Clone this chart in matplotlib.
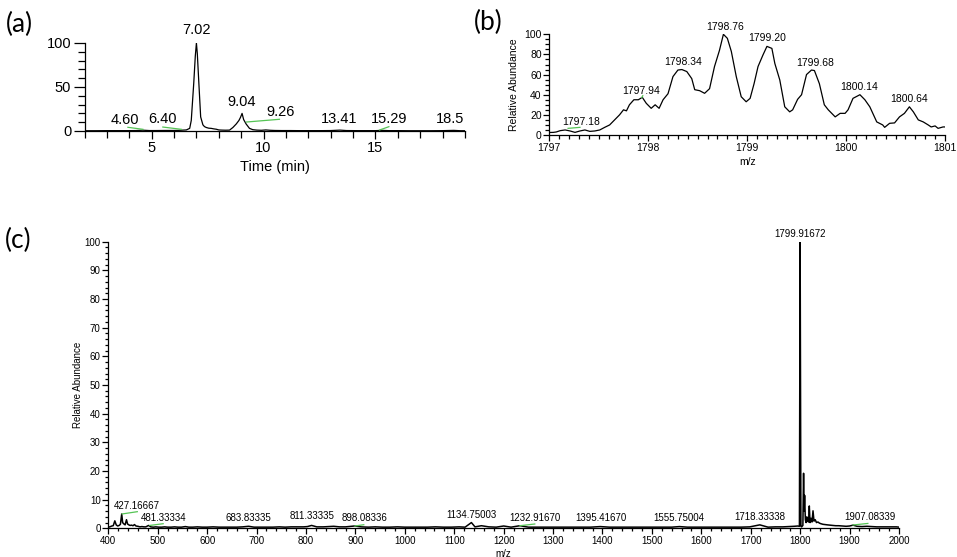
import matplotlib
matplotlib.use("Agg")
import matplotlib.pyplot as plt
from matplotlib.ticker import MultipleLocator

plt.rcParams['font.family'] = ['Liberation Sans', 'DejaVu Sans']

# ---------------- (a) chromatogram ----------------
time_min = [2.0, 2.5, 3.0, 3.5, 4.0, 4.3, 4.6, 4.9, 5.2, 5.6, 6.0, 6.2, 6.4, 6.55,
            6.70, 6.77, 6.88, 6.95, 7.00, 7.04, 7.11, 7.19, 7.29, 7.36, 7.44, 7.55,
            7.66, 7.78, 7.89, 8.0, 8.15, 8.3, 8.48, 8.63, 8.78, 8.9, 8.97, 9.04,
            9.11, 9.22, 9.37, 9.52, 9.7, 9.9, 10.1, 10.3, 10.5, 10.8, 11.2, 11.6,
            12.0, 12.5, 13.0, 13.41, 13.7, 14.2, 14.7, 15.0, 15.29, 15.6, 16.0,
            16.5, 17.0, 17.5, 18.0, 18.5, 18.8, 19.0]
tic_rel = [0.3, 0.3, 0.4, 0.4, 0.4, 0.5, 0.9, 0.5, 0.5, 0.6, 0.6, 0.7, 1.0, 1.2,
           3.0, 12.0, 54.0, 85.0, 100.0, 88.0, 54.0, 16.0, 7.0, 5.0, 4.0, 3.2,
           3.0, 2.4, 2.0, 1.2, 1.0, 0.9, 1.0, 4.0, 8.0, 12.0, 15.5, 20.0,
           13.0, 8.0, 3.0, 1.5, 1.0, 0.8, 1.2, 0.8, 0.6, 0.5, 0.5, 0.4,
           0.4, 0.4, 0.5, 1.0, 0.5, 0.4, 0.4, 0.4, 0.7, 0.4, 0.4,
           0.3, 0.3, 0.3, 0.4, 0.7, 0.3, 0.3]
tic_labels = ["4.60", "6.40", "7.02", "9.04", "9.26", "13.41", "15.29", "18.5"]

# ---------------- (b) zoomed isotope envelope ----------------
mz_b = [1797.00, 1797.04, 1797.07, 1797.11, 1797.16, 1797.21, 1797.26, 1797.31,
        1797.36, 1797.41, 1797.46, 1797.51, 1797.56, 1797.61, 1797.66, 1797.71,
        1797.75, 1797.78, 1797.81, 1797.855, 1797.90, 1797.94, 1797.98, 1798.03,
        1798.07, 1798.11, 1798.15, 1798.20, 1798.25, 1798.30, 1798.34, 1798.39,
        1798.44, 1798.47, 1798.52, 1798.57, 1798.62, 1798.67, 1798.72, 1798.76,
        1798.80, 1798.84, 1798.89, 1798.94, 1798.99, 1799.03, 1799.07, 1799.11,
        1799.16, 1799.20, 1799.25, 1799.28, 1799.33, 1799.38, 1799.43, 1799.46,
        1799.51, 1799.55, 1799.60, 1799.65, 1799.68, 1799.73, 1799.78, 1799.82,
        1799.89, 1799.94, 1799.99, 1800.02, 1800.07, 1800.14, 1800.19, 1800.24,
        1800.31, 1800.37, 1800.39, 1800.44, 1800.49, 1800.54, 1800.59, 1800.64,
        1800.68, 1800.73, 1800.78, 1800.83, 1800.86, 1800.90, 1800.93, 1800.98,
        1801.00]
ab_b = [2.5, 2.6, 3.0, 4.3, 5.0, 4.0, 2.6, 4.0,
        5.0, 3.6, 4.0, 5.0, 7.6, 10.0, 15.0, 20.0,
        25.0, 24.0, 30.0, 35.0, 35.0, 37.4, 31.5, 26.5,
        30.0, 26.5, 35.0, 41.0, 58.0, 64.5, 65.0, 63.0,
        56.0, 45.0, 44.0, 41.4, 46.0, 68.0, 84.0, 100.0,
        96.0, 83.0, 58.0, 38.0, 33.0, 36.4, 51.0, 68.0,
        79.5, 88.0, 86.0, 71.0, 54.6, 28.0, 23.0, 25.0,
        35.4, 40.0, 60.0, 64.5, 64.0, 51.0, 30.0, 25.0,
        18.0, 21.5, 21.5, 25.0, 36.4, 40.0, 35.0, 28.0,
        13.0, 10.0, 7.6, 11.6, 12.0, 18.0, 21.5, 28.0,
        23.0, 15.0, 13.0, 10.0, 8.0, 9.0, 6.6, 8.0,
        8.0]
ms_b_labels = ["1797.18", "1797.94", "1798.34", "1798.76", "1799.20",
               "1799.68", "1800.14", "1800.64"]

# ---------------- (c) full-scan spectrum ----------------
mz_c = [400, 403, 407, 410, 413.2, 416, 419, 422, 424.5, 427.16667, 429, 431, 434,
        436.8, 439, 441.5, 444, 447, 450, 453, 456, 460, 464, 468, 472, 476,
        481.33334, 486, 491, 496, 502, 508, 514, 520, 527, 534, 541, 548, 556,
        563, 571, 580, 590, 600, 612, 624, 636, 648, 660, 672, 683.83335, 695,
        707, 720, 733, 746, 758, 770, 782, 795, 803, 811.33335, 822, 835, 848,
        856, 868, 880, 898.08336, 912, 926, 940, 955, 970, 985, 1000, 1015,
        1030, 1046, 1062, 1078, 1094, 1110, 1122, 1134.75003, 1142, 1155, 1170,
        1185, 1200, 1215, 1232.91670, 1250, 1268, 1286, 1304, 1322, 1340, 1358,
        1376, 1395.41670, 1414, 1432, 1450, 1468, 1486, 1504, 1522, 1540,
        1555.75004, 1572, 1590, 1608, 1626, 1644, 1662, 1680, 1698, 1718.33338,
        1735, 1750, 1765, 1778, 1788, 1795, 1798.5, 1799.91672, 1801.5, 1803,
        1805.5, 1806.9, 1808, 1809, 1810.5, 1812, 1813.5, 1815, 1817, 1818.5,
        1820, 1822, 1824, 1826, 1828, 1830.5, 1833, 1836, 1839, 1842, 1846,
        1850, 1855, 1860, 1866, 1872, 1878, 1885, 1893, 1900, 1907.08339,
        1915, 1925, 1935, 1945, 1955, 1965, 1975, 1985, 1995, 2000]
ab_c = [0.4, 0.5, 0.8, 0.9, 2.6, 1.2, 0.8, 1.0, 1.4, 5.0, 2.0, 1.6, 1.2,
        3.0, 1.5, 1.2, 1.0, 1.1, 0.9, 1.3, 0.8, 0.7, 0.5, 0.6, 0.5, 0.5,
        1.0, 0.5, 0.4, 0.5, 0.4, 0.4, 0.5, 0.4, 0.4, 0.5, 0.4, 0.4, 0.6,
        0.4, 0.4, 0.5, 0.4, 0.4, 0.5, 0.4, 0.4, 0.4, 0.4, 0.5, 0.7, 0.4,
        0.4, 0.4, 0.4, 0.5, 0.4, 0.5, 0.5, 0.5, 0.6, 1.0, 0.5, 0.5, 0.6,
        0.7, 0.5, 0.5, 0.8, 0.5, 0.4, 0.5, 0.4, 0.4, 0.5, 0.4, 0.4,
        0.4, 0.4, 0.5, 0.4, 0.4, 0.5, 0.4, 2.0, 0.5, 0.9, 0.5,
        0.4, 0.8, 0.4, 0.9, 0.4, 0.4, 0.4, 0.4, 0.4, 0.4, 0.4,
        0.4, 0.6, 0.4, 0.4, 0.4, 0.4, 0.4, 0.4, 0.4, 0.4,
        0.6, 0.4, 0.4, 0.4, 0.4, 0.4, 0.4, 0.4, 0.5, 1.2,
        0.4, 0.5, 0.5, 0.6, 0.7, 0.8, 0.7, 100.0, 0.7, 0.5,
        1.0, 19.2, 6.0, 11.5, 3.0, 2.0, 4.0, 2.5, 2.2, 7.8,
        2.0, 3.5, 2.2, 6.1, 2.5, 3.0, 2.0, 2.2, 1.8, 1.6, 1.4,
        1.3, 1.2, 1.1, 1.0, 0.9, 0.9, 0.8, 0.7, 0.8, 1.1,
        0.7, 0.6, 0.7, 0.6, 0.5, 0.5, 0.5, 0.5, 0.5, 0.4]
ms_c_labels = ["427.16667", "481.33334", "683.83335", "811.33335", "898.08336",
               "1134.75003", "1232.91670", "1395.41670", "1555.75004",
               "1718.33338", "1799.91672", "1907.08339"]

# label anchors (text centre x, text bottom y) and green leader segments
a_label_xy = [(3.81, 4.9), (5.5, 5.7), (7.0, 106.5), (9.0, 25.0), (10.75, 13.6),
              (13.36, 5.7), (15.6, 5.7), (18.35, 5.7)]
a_leaders = [((4.61, 1.9), (3.94, 4.2)), ((6.33, 1.9), (5.5, 4.5)),
             ((9.23, 10.2), (10.71, 13.3)), ((15.18, 1.1), (15.6, 4.9))]
b_label_xy = [(1797.32, 8.0), (1797.93, 38.5), (1798.354, 68.0), (1798.774, 102.6),
              (1799.20, 91.0), (1799.69, 67.0), (1800.13, 43.0), (1800.64, 30.5)]
b_leaders = [((1797.19, 6.6), (1797.31, 7.6)), ((1797.935, 37.2), (1797.945, 39.0))]
c_label_xy = [(457.4, 6.2), (511.0, 1.8), (684.0, 1.8), (811.4, 2.4), (919.0, 1.8),
              (1135.6, 3.0), (1263.5, 1.8), (1396.0, 1.8), (1555.4, 1.8),
              (1718.2, 2.2), (1800.0, 101.0), (1942.0, 2.2)]
c_leaders = [((428.0, 5.0), (458.7, 5.8)), ((484.0, 1.0), (511.0, 1.6)),
             ((899.0, 0.8), (917.0, 1.25)), ((1232.7, 0.9), (1263.0, 1.5)),
             ((1907.0, 1.15), (1937.0, 1.7))]

GREEN = '#55c455'
W, H = 957, 557
fig = plt.figure(figsize=(W / 100, H / 100), dpi=100)


def add_axes_px(x0, x1, ytop, ybot):
    return fig.add_axes([x0 / W, 1 - ybot / H, (x1 - x0) / W, (ybot - ytop) / H])


def style(ax, fs, major_len, minor_len):
    for s in ('top', 'right'):
        ax.spines[s].set_visible(False)
    for s in ('left', 'bottom'):
        ax.spines[s].set_linewidth(0.9)
    ax.tick_params(which='major', direction='out', length=major_len, width=0.9,
                   labelsize=fs, pad=1.5)
    ax.tick_params(which='minor', direction='out', length=minor_len, width=0.9)


# (a)
axa = add_axes_px(84.5, 465, 43, 131)
axa.plot(time_min, tic_rel, color='black', lw=0.9)
axa.set_xlim(2, 19)
axa.set_ylim(0, 100)
axa.set_xticks([5, 10, 15])
axa.xaxis.set_minor_locator(MultipleLocator(1))
axa.set_yticks([0, 50, 100])
axa.yaxis.set_minor_locator(MultipleLocator(10))
style(axa, 10.5, 6, 5)
axa.tick_params(axis='y', which='major', length=8)
axa.set_xlabel('Time (min)', fontsize=10.5, labelpad=3)
for txt, (x, y) in zip(tic_labels, a_label_xy):
    axa.text(x, y, txt, fontsize=10.5, ha='center', va='bottom', clip_on=False)
for (p0, p1) in a_leaders:
    axa.plot([p0[0], p1[0]], [p0[1], p1[1]], color=GREEN, lw=0.9, clip_on=False)

# (b)
axb = add_axes_px(549.3, 945, 34.3, 135)
axb.plot(mz_b, ab_b, color='black', lw=0.9)
axb.set_xlim(1797, 1801)
axb.set_ylim(0, 100)
axb.set_xticks([1797, 1798, 1799, 1800, 1801])
axb.xaxis.set_minor_locator(MultipleLocator(0.1))
axb.set_yticks([0, 20, 40, 60, 80, 100])
axb.yaxis.set_minor_locator(MultipleLocator(5))
style(axb, 7.5, 4, 3)
axb.set_xlabel('m/z', fontsize=7.5, labelpad=3)
axb.set_ylabel('Relative Abundance', fontsize=7.5, labelpad=4)
for txt, (x, y) in zip(ms_b_labels, b_label_xy):
    axb.text(x, y, txt, fontsize=7.5, ha='center', va='bottom', clip_on=False)
for (p0, p1) in b_leaders:
    axb.plot([p0[0], p1[0]], [p0[1], p1[1]], color=GREEN, lw=0.9, clip_on=False)

# (c)
axc = add_axes_px(108.3, 899, 241.7, 528.3)
axc.plot(mz_c, ab_c, color='black', lw=1.1)
axc.set_xlim(400, 2000)
axc.set_ylim(0, 100)
axc.set_xticks(range(400, 2001, 100))
axc.xaxis.set_minor_locator(MultipleLocator(20))
axc.set_yticks(range(0, 101, 10))
axc.yaxis.set_minor_locator(MultipleLocator(2))
style(axc, 7.0, 4, 2.5)
axc.set_xlabel('m/z', fontsize=7.0, labelpad=2)
axc.set_ylabel('Relative Abundance', fontsize=7.0, labelpad=1)
for txt, (x, y) in zip(ms_c_labels, c_label_xy):
    axc.text(x, y, txt, fontsize=7.0, ha='center', va='bottom', clip_on=False)
for (p0, p1) in c_leaders:
    axc.plot([p0[0], p1[0]], [p0[1], p1[1]], color=GREEN, lw=0.9, clip_on=False)

# panel letters
for letter, (px, py) in zip(['(a)', '(b)', '(c)'], [(6, 24), (474, 22), (5, 240)]):
    fig.text(px / W, 1 - py / H, letter, fontsize=19, family=['Lato', 'DejaVu Sans'],
             ha='left', va='center')

fig.savefig('out.png', dpi=100)
